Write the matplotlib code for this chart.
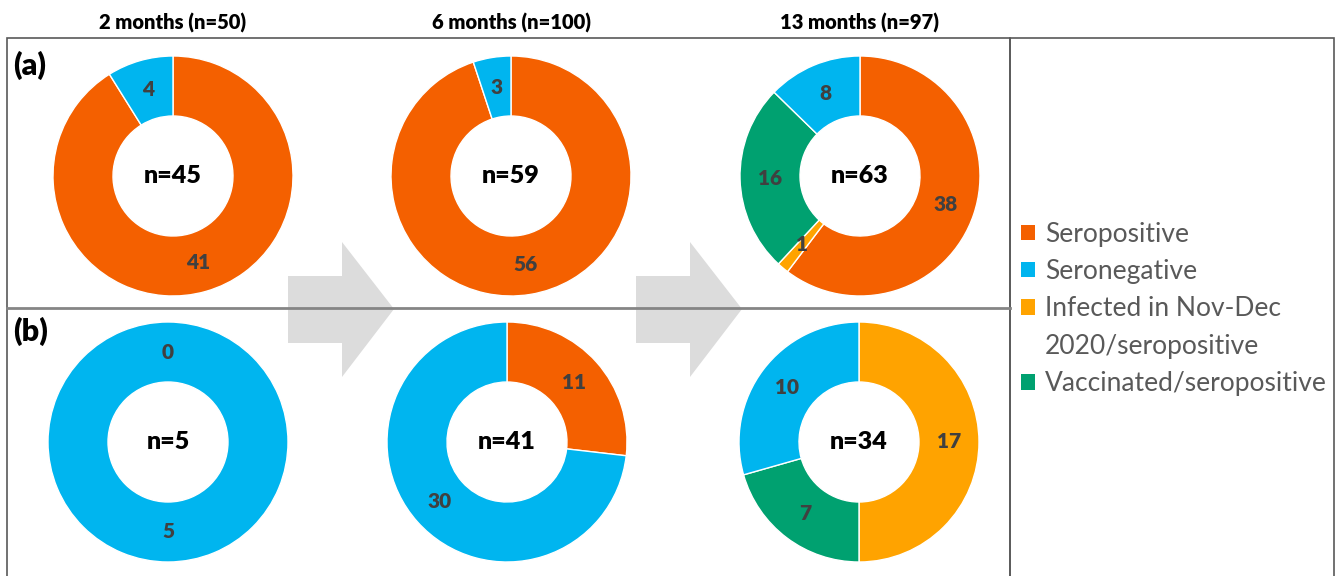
import matplotlib.pyplot as plt
from matplotlib.patches import Polygon, Rectangle, Patch

plt.rcParams['font.family'] = ['Lato', 'DejaVu Sans']

W, H = 1339, 576

categories = ['Seropositive', 'Seronegative', 'Infected', 'Vaccinated']
legend_labels = ['Seropositive', 'Seronegative',
                 'Infected in Nov-Dec\n2020/seropositive', 'Vaccinated/seropositive']
colors = {'Seropositive': '#F46000', 'Seronegative': '#00B5EF',
          'Infected': '#FFA300', 'Vaccinated': '#00A170'}

col_titles = ['2 months (n=50)', '6 months (n=100)', '13 months (n=97)']
row_labels = ['(a)', '(b)']

# slices clockwise from 12 o'clock
a_cats = [['Seropositive', 'Seronegative'],
          ['Seropositive', 'Seronegative'],
          ['Seropositive', 'Infected', 'Vaccinated', 'Seronegative']]
a_vals = [[41, 4], [56, 3], [38, 1, 16, 8]]

b_cats = [['Seropositive', 'Seronegative'],
          ['Seropositive', 'Seronegative'],
          ['Infected', 'Vaccinated', 'Seronegative']]
b_vals = [[0, 5], [11, 30], [17, 7, 10]]

# layout (pixels, image coords y down)
col_x = [[173, 511, 860], [168, 507, 859]]
row_y = [176, 442]
R = 120


def Y(y):
    return H - y


fig = plt.figure(figsize=(W / 100, H / 100), dpi=100)
ax = fig.add_axes([0, 0, 1, 1])

# frames
ax.add_patch(Rectangle((7, Y(590)), 1003, 552, fill=False, ec='#595959', lw=1.2, zorder=5))
ax.add_patch(Rectangle((1010, Y(590)), 324, 552, fill=False, ec='#595959', lw=1.2, zorder=5))
ax.plot([7, 1010], [Y(308), Y(308)], color='#858585', lw=2, zorder=5)

# arrows
for x0 in [288, 636]:
    pts = [(x0, 276), (x0 + 54, 276), (x0 + 54, 242), (x0 + 106, 309),
           (x0 + 54, 377), (x0 + 54, 343), (x0, 343)]
    ax.add_patch(Polygon([(px, Y(py)) for px, py in pts], closed=True,
                         fc='#DCDCDC', ec='none', zorder=0))

for r, (cats_row, vals_row) in enumerate([(a_cats, a_vals), (b_cats, b_vals)]):
    for c, (cats, vals) in enumerate(zip(cats_row, vals_row)):
        total = sum(vals)
        cx, cy = col_x[r][c], Y(row_y[r])
        ax.pie(vals, colors=[colors[k] for k in cats], startangle=90, counterclock=False,
               radius=R, center=(cx, cy), pctdistance=0.75,
               autopct=lambda p, t=total: f'{round(p * t / 100)}',
               wedgeprops=dict(width=R / 2, edgecolor='white', linewidth=1),
               textprops=dict(color='#404040', fontsize=15, fontweight='heavy'))
        ax.text(cx, cy, f'n={total}', ha='center', va='center',
                fontsize=18, fontweight='heavy', color='black', zorder=6)

for c, t in enumerate(col_titles):
    ax.text(col_x[0][c], Y(23), t, ha='center', va='center', fontsize=14.5, fontweight='heavy')

for r, t in enumerate(row_labels):
    ax.text(13, Y([65, 331][r]), t, ha='left', va='center', fontsize=22, fontweight='heavy')

# legend: wrapped labels get a blank handle on their continuation lines
handles, labels = [], []
for k, lab in zip(categories, legend_labels):
    for i, line in enumerate(lab.split('\n')):
        handles.append(Patch(fc=colors[k] if i == 0 else 'none', ec='none'))
        labels.append(line)
leg = ax.legend(handles, labels, loc='center left', bbox_to_anchor=(1021 / W, Y(309) / H),
                frameon=False, fontsize=19, labelcolor='#595959', handlelength=0.52,
                handleheight=0.52, handletextpad=0.38, labelspacing=0.47,
                borderpad=0, borderaxespad=0)

ax.set_xlim(0, W)
ax.set_ylim(0, H)
ax.set_aspect('equal')
ax.axis('off')

fig.savefig('out.png', dpi=100)
